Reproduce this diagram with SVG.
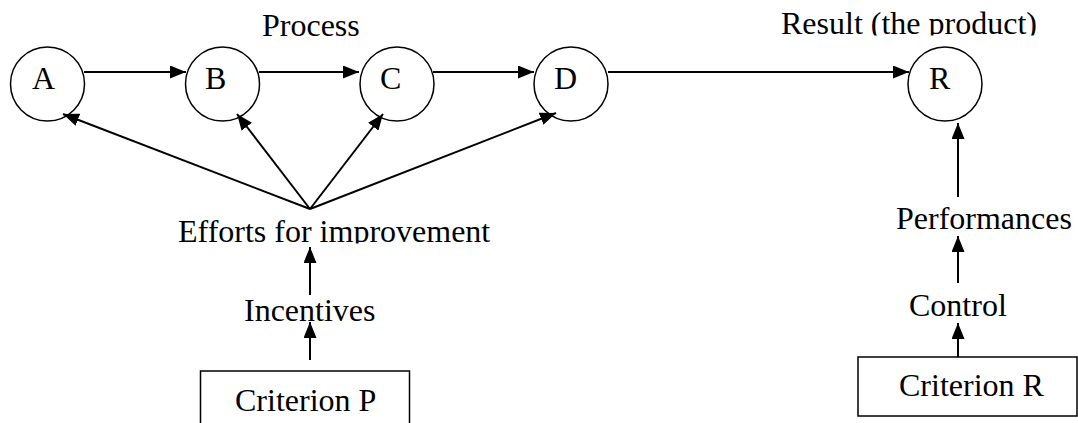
<svg xmlns="http://www.w3.org/2000/svg" width="1078" height="423" viewBox="0 0 1078 423">
<style>
text{font-family:"Liberation Serif","Times New Roman",serif;font-size:32px;fill:#000}
.node circle{fill:none;stroke:#000;stroke-width:1.5}
.box{fill:none;stroke:#000;stroke-width:1.5}
#connectors line{stroke:#000;stroke-width:2}
.arr{marker-end:url(#ah)}
</style>
<defs>
<marker id="ah" markerUnits="userSpaceOnUse" markerWidth="16" markerHeight="13" refX="16" refY="6.5" orient="auto">
<path d="M0,0 L16,6.5 L0,13 Z" fill="#000"/>
</marker>
<clipPath id="clipEff"><rect x="0" y="200" width="600" height="43.5"/></clipPath>
<clipPath id="clipRes"><rect x="700" y="0" width="378" height="35.5"/></clipPath>
</defs>
<g id="labels">
<text x="262" y="36">Process</text>
<text x="781" y="34" clip-path="url(#clipRes)">Result (the product)</text>
</g>
<g id="nodeA" class="node"><circle cx="47.5" cy="84" r="37"/><text x="32" y="89">A</text></g>
<g id="nodeB" class="node"><circle cx="222.5" cy="84" r="37"/><text x="205" y="89">B</text></g>
<g id="nodeC" class="node"><circle cx="397" cy="84" r="37"/><text x="380" y="89">C</text></g>
<g id="nodeD" class="node"><circle cx="571" cy="84" r="37"/><text x="554" y="89">D</text></g>
<g id="nodeR" class="node"><circle cx="945" cy="84" r="37"/><text x="929" y="89">R</text></g>
<g id="efforts"><text x="178" y="242" clip-path="url(#clipEff)">Efforts for improvement</text></g>
<g id="incentives"><text x="244" y="321">Incentives</text></g>
<g id="criterionP"><rect class="box" x="200.5" y="371" width="209" height="70"/><text x="235" y="411">Criterion P</text></g>
<g id="performances"><text x="896" y="229">Performances</text></g>
<g id="control"><text x="909" y="316">Control</text></g>
<g id="criterionR"><rect class="box" x="858" y="357" width="219" height="59"/><text x="899" y="396">Criterion R</text></g>
<g id="connectors">
<line class="arr" x1="84" y1="72" x2="186" y2="72"/>
<line class="arr" x1="259" y1="72" x2="359" y2="72"/>
<line class="arr" x1="433" y1="72" x2="534" y2="72"/>
<line class="arr" x1="608" y1="72" x2="909" y2="72"/>
<line class="arr" x1="310" y1="209" x2="63" y2="114"/>
<line class="arr" x1="310" y1="209" x2="237" y2="114"/>
<line class="arr" x1="310" y1="209" x2="383" y2="114"/>
<line class="arr" x1="310" y1="209" x2="556" y2="113"/>
<line class="arr" x1="310" y1="295" x2="310" y2="247"/>
<line class="arr" x1="310" y1="360" x2="310" y2="322"/>
<line class="arr" x1="958" y1="197" x2="958" y2="123"/>
<line class="arr" x1="958" y1="283" x2="958" y2="236"/>
<line class="arr" x1="958" y1="357" x2="958" y2="323"/>
</g>
</svg>
